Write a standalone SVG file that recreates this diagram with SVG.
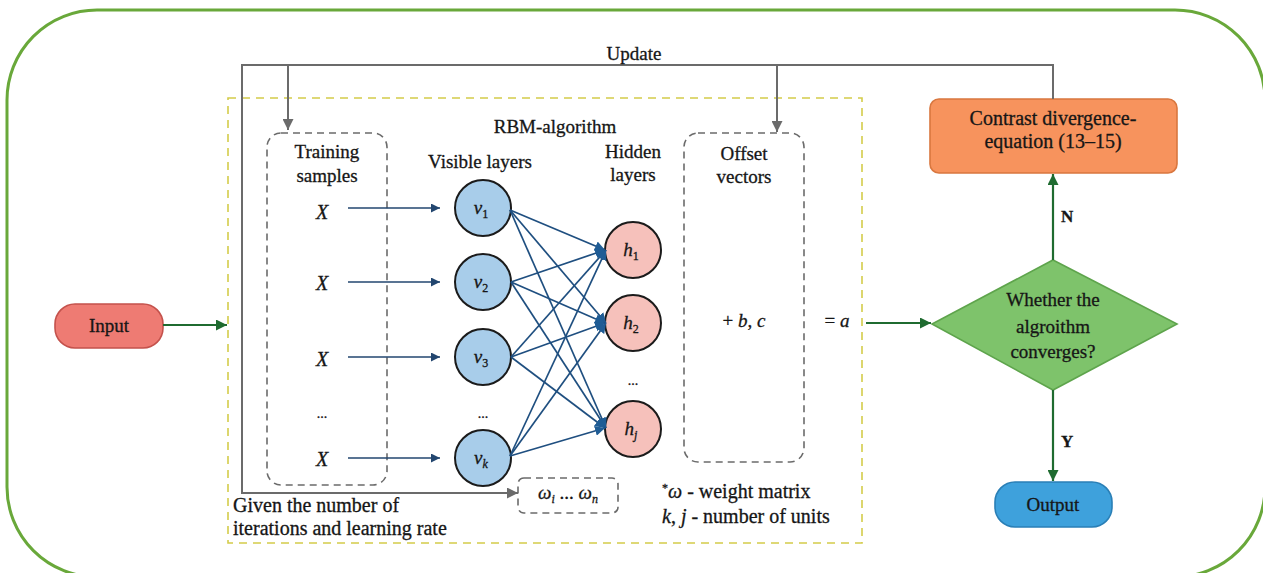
<svg xmlns="http://www.w3.org/2000/svg" width="1263" height="573" viewBox="0 0 1263 573" font-family="'Liberation Serif', 'Times New Roman', serif">
  <style>
    text { font-family: "Liberation Serif", "Times New Roman", serif; fill: #161616; stroke: #161616; stroke-width: 0.3px; }
    .lbl { font-size: 19px; }
    .big { font-size: 20px; }
    .mid { text-anchor: middle; }
    .it { font-style: italic; }
    .sub { font-size: 12px; font-style: normal; }
    .subi { font-size: 12px; font-style: italic; }
    .dash { fill: none; stroke: #6b6b6b; stroke-width: 1.6; stroke-dasharray: 7 5; }
    .upd { fill: none; stroke: #6b6b6b; stroke-width: 2; }
    .navy { fill: none; stroke: #22466f; stroke-width: 1.7; }
    .net { fill: none; stroke: #1f4f80; stroke-width: 1.7; }
    .flow { fill: none; stroke: #1f6b30; stroke-width: 2.2; }
    .vis { fill: #a8cdea; stroke: #1b1b1b; stroke-width: 2; }
    .hid { fill: #f6c1bb; stroke: #1b1b1b; stroke-width: 2; }
  </style>
  <defs>
    <marker id="ah-gray" viewBox="0 0 10 10" refX="10" refY="5" markerWidth="12" markerHeight="11" markerUnits="userSpaceOnUse" orient="auto">
      <path d="M0,0 L10,5 L0,10 Z" fill="#6b6b6b"/>
    </marker>
    <marker id="ah-navy" viewBox="0 0 10 10" refX="10" refY="5" markerWidth="10" markerHeight="9" markerUnits="userSpaceOnUse" orient="auto">
      <path d="M0,0 L10,5 L0,10 Z" fill="#22466f"/>
    </marker>
    <marker id="ah-net" viewBox="0 0 10 10" refX="10" refY="5" markerWidth="10" markerHeight="10" markerUnits="userSpaceOnUse" orient="auto">
      <path d="M0,0 L10,5 L0,10 Z" fill="#1f5c95"/>
    </marker>
    <marker id="ah-green" viewBox="0 0 10 10" refX="10" refY="5" markerWidth="12" markerHeight="11" markerUnits="userSpaceOnUse" orient="auto">
      <path d="M0,0 L10,5 L0,10 Z" fill="#1f6b30"/>
    </marker>
  </defs>

  <rect width="1263" height="573" fill="#ffffff"/>

  <!-- outer frame -->
  <rect x="7" y="10" width="1258" height="567" rx="90" ry="90" fill="none" stroke="#69a83a" stroke-width="3"/>

  <!-- RBM algorithm region -->
  <g id="rbm-region">
    <rect x="228" y="98" width="634" height="445" fill="#ffffff" stroke="#d4cc4a" stroke-width="1.6" stroke-dasharray="8 6"/>
    <text class="lbl mid" x="555" y="133">RBM-algorithm</text>
  </g>

  <g id="training-samples">
    <rect class="dash" x="267" y="133" width="120" height="352" rx="14"/>
    <text class="lbl mid" x="327" y="158">Training</text>
    <text class="lbl mid" x="327" y="182">samples</text>
    <text class="big mid it" x="322" y="219">X</text>
    <text class="big mid it" x="322" y="290">X</text>
    <text class="big mid it" x="322" y="366">X</text>
    <text class="lbl mid" x="322" y="418" style="font-size:14px">...</text>
    <text class="big mid it" x="322" y="466">X</text>
  </g>

  <g id="visible-layers">
    <text class="lbl mid" x="480" y="168">Visible layers</text>
    <circle class="vis" cx="483" cy="208" r="28"/>
    <text class="lbl mid it" x="481" y="214">v<tspan class="sub" dy="4">1</tspan></text>
    <circle class="vis" cx="483" cy="282" r="28"/>
    <text class="lbl mid it" x="481" y="288">v<tspan class="sub" dy="4">2</tspan></text>
    <circle class="vis" cx="483" cy="357" r="28"/>
    <text class="lbl mid it" x="481" y="363">v<tspan class="sub" dy="4">3</tspan></text>
    <text class="lbl mid" x="483" y="418" style="font-size:14px">...</text>
    <circle class="vis" cx="483" cy="458" r="28"/>
    <text class="lbl mid it" x="481" y="464">v<tspan class="subi" dy="4">k</tspan></text>
  </g>

  <g id="hidden-layers">
    <text class="lbl mid" x="633" y="158">Hidden</text>
    <text class="lbl mid" x="633" y="181">layers</text>
    <circle class="hid" cx="633" cy="250" r="28"/>
    <text class="lbl mid it" x="631" y="256">h<tspan class="sub" dy="4">1</tspan></text>
    <circle class="hid" cx="633" cy="323" r="28"/>
    <text class="lbl mid it" x="631" y="329">h<tspan class="sub" dy="4">2</tspan></text>
    <text class="lbl mid" x="633" y="385" style="font-size:14px">...</text>
    <circle class="hid" cx="633" cy="429" r="28"/>
    <text class="lbl mid it" x="631" y="435">h<tspan class="subi" dy="4">j</tspan></text>
  </g>

  <g id="offset-vectors">
    <rect class="dash" x="684" y="133" width="120" height="329" rx="14"/>
    <text class="lbl mid" x="744" y="160">Offset</text>
    <text class="lbl mid" x="744" y="183">vectors</text>
    <text class="lbl mid" x="744" y="327">+ <tspan class="it">b</tspan>, <tspan class="it">c</tspan></text>
    <text class="lbl mid" x="837" y="327">= <tspan class="it">a</tspan></text>
  </g>

  <g id="weights">
    <rect class="dash" x="518" y="478" width="100" height="35" rx="6"/>
    <text class="lbl mid it" x="568" y="499">ω<tspan class="subi" dy="4">i</tspan><tspan dy="-4" font-style="normal"> ... </tspan>ω<tspan class="subi" dy="4">n</tspan></text>
  </g>

  <g id="notes">
    <text class="big" x="233" y="512">Given the number of</text>
    <text class="big" x="233" y="535">iterations and learning rate</text>
    <text class="big" x="662" y="498"><tspan class="sub" dy="-6">*</tspan><tspan class="it" dy="6">ω</tspan> - weight matrix</text>
    <text class="big" x="662" y="523"><tspan class="it">k</tspan>, <tspan class="it">j</tspan> - number of units</text>
  </g>

  <g id="input">
    <rect x="55" y="304" width="108" height="44" rx="20" fill="#ee7b73" stroke="#c4524c" stroke-width="1.6"/>
    <text class="lbl mid" x="109" y="332">Input</text>
  </g>

  <g id="contrast-divergence">
    <rect x="930" y="99" width="247" height="74" rx="9" fill="#f7935d" stroke="#d9773f" stroke-width="1.6"/>
    <text class="big mid" x="1053" y="125">Contrast divergence-</text>
    <text class="big mid" x="1053" y="148">equation (13–15)</text>
  </g>

  <g id="convergence-check">
    <polygon points="1053,260 1177,324 1053,390 932,324" fill="#7ec36b" stroke="#5ea44c" stroke-width="1.6"/>
    <text class="lbl mid" x="1053" y="306">Whether the</text>
    <text class="lbl mid" x="1053" y="333">algroithm</text>
    <text class="lbl mid" x="1053" y="358">converges?</text>
  </g>

  <g id="output">
    <rect x="995" y="482" width="117" height="45" rx="20" fill="#3ea1dc" stroke="#2a7fb6" stroke-width="1.6"/>
    <text class="lbl mid" x="1053" y="511">Output</text>
  </g>

  <g id="connectors">
    <!-- update loop -->
    <polyline class="upd" points="1053,99 1053,65 242,65 242,493 518,493" marker-end="url(#ah-gray)"/>
    <line class="upd" x1="288" y1="65" x2="288" y2="130" marker-end="url(#ah-gray)"/>
    <line class="upd" x1="777" y1="65" x2="777" y2="132" marker-end="url(#ah-gray)"/>
    <text class="lbl mid" x="634" y="60">Update</text>

    <!-- samples to visible units -->
    <line class="navy" x1="348" y1="208" x2="440" y2="208" marker-end="url(#ah-navy)"/>
    <line class="navy" x1="348" y1="282" x2="440" y2="282" marker-end="url(#ah-navy)"/>
    <line class="navy" x1="348" y1="357" x2="440" y2="357" marker-end="url(#ah-navy)"/>
    <line class="navy" x1="348" y1="458" x2="440" y2="458" marker-end="url(#ah-navy)"/>

    <!-- visible to hidden weights -->
    <g class="net" marker-end="url(#ah-net)">
      <line x1="510" y1="210" x2="605" y2="250"/>
      <line x1="510" y1="210" x2="606" y2="323"/>
      <line x1="510" y1="210" x2="606" y2="428"/>
      <line x1="511" y1="282" x2="605" y2="250"/>
      <line x1="511" y1="282" x2="605" y2="323"/>
      <line x1="511" y1="282" x2="606" y2="428"/>
      <line x1="511" y1="357" x2="606" y2="250"/>
      <line x1="511" y1="357" x2="605" y2="323"/>
      <line x1="511" y1="357" x2="605" y2="428"/>
      <line x1="510" y1="456" x2="606" y2="250"/>
      <line x1="510" y1="456" x2="606" y2="323"/>
      <line x1="510" y1="456" x2="605" y2="428"/>
    </g>

    <!-- flowchart -->
    <line class="flow" x1="163" y1="325" x2="227" y2="325" marker-end="url(#ah-green)"/>
    <line class="flow" x1="866" y1="323" x2="931" y2="323" marker-end="url(#ah-green)"/>
    <line class="flow" x1="1053" y1="260" x2="1053" y2="174" marker-end="url(#ah-green)"/>
    <line class="flow" x1="1053" y1="390" x2="1053" y2="481" marker-end="url(#ah-green)"/>
    <text class="lbl" x="1061" y="222" font-weight="bold" style="font-size:17px">N</text>
    <text class="lbl" x="1061" y="447" font-weight="bold" style="font-size:17px">Y</text>
  </g>
</svg>
